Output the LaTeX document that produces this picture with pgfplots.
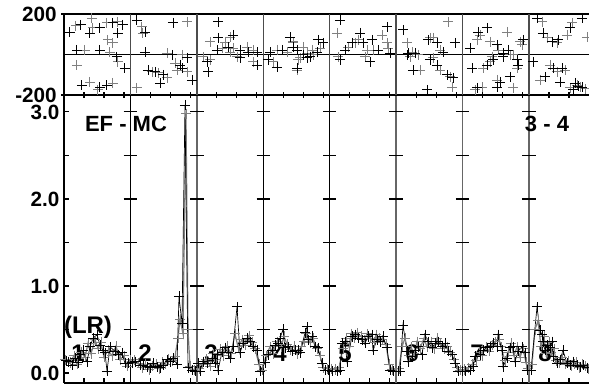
\documentclass[border=0pt]{standalone}
\usepackage{fontspec}
\setmainfont{Liberation Sans}
\usepackage{pgfplots}
\pgfplotsset{compat=1.18}
\pgfplotsset{
 base/.style={
  scale only axis, width=393.75pt,
  xmin=64, xmax=589,
  axis x line*=box, axis y line*=left,
  axis line style={line width=0.8pt},
  xtick={84,104,124,150.4,170.4,190.4,216.9,236.9,256.9,283.3,303.3,323.3,349.7,369.7,389.7,416.1,436.1,456.1,482.6,502.6,522.6,549,569},
  xticklabels={},
  xtick pos=bottom,
  tick style={black, line width=0.8pt},
  major tick length=4pt,
  minor tick length=4pt,
  ticklabel style={font=\fontsize{15.5}{15.5}\selectfont\bfseries},
  /pgf/number format/assume math mode=true,
  clip=false,
 },
 bmark/.style={black, line width=0.5pt, mark=+, mark size=3.8pt, mark options={line width=0.75pt, solid}},
 gmark/.style={black!50, line width=0.9pt, mark=+, mark size=3.8pt, mark options={line width=0.75pt, solid}},
}
\begin{document}
\begin{tikzpicture}[x=1pt,y=1pt]
\path[use as bounding box] (-48pt,-2.25pt) rectangle (393.75pt,287.25pt);
% ---------------- bottom panel ----------------
\begin{axis}[base,
  at={(0pt,0pt)}, anchor=south west, height=216pt,
  ymin=-0.115, ymax=3.195,
  ytick={0,1,2,3}, yticklabels={0.0,1.0,2.0,3.0},
  minor ytick={0.5,1.5,2.5},
  tick align=inside,
]
\pgfplotsinvokeforeach{130.4,263.3,329.7}{
  \draw[black, line width=0.8pt] (axis cs:#1,-0.115) -- (axis cs:#1,3.195);
}
\pgfplotsinvokeforeach{196.9,396.1,462.6,529}{
  \draw[black!60, line width=1.1pt] (axis cs:#1,-0.115) -- (axis cs:#1,3.195);
}
\pgfplotsinvokeforeach{130.4,196.9,263.3,329.7,396.1,462.6,529}{
  \draw[black, line width=0.8pt]
    (axis cs:#1,0.5) ++(-5pt,0pt) -- ++(10pt,0pt)
    (axis cs:#1,1.0) ++(-5pt,0pt) -- ++(10pt,0pt)
    (axis cs:#1,1.5) ++(-5pt,0pt) -- ++(10pt,0pt)
    (axis cs:#1,2.0) ++(-5pt,0pt) -- ++(10pt,0pt)
    (axis cs:#1,2.5) ++(-5pt,0pt) -- ++(10pt,0pt)
    (axis cs:#1,3.0) ++(-5pt,0pt) -- ++(10pt,0pt);
}
% gray series
\addplot[gmark] coordinates {
(65,0.15)(70,0.12)(74,0.2)(77,0.1)(81,0.24)(85,0.18)(88,0.34)(91,0.22)(95,0.38)(98,0.28)(101,0.35)(104,0.18)(108,0.26)(112,0.2)(116,0.31)(120,0.15)(124,0.2)(127,0.08)(130,0.15)
(134,0.15)(138,0.11)(142,0.06)(145,0.1)(149,0.04)(152,0.08)(156,0.1)(159,0.05)(162,0.12)(165,0.1)(168,0.16)(172,0.14)(175,0.19)(178,0.4)(180,0.62)(183,0.45)(186,2.98)(188,0.5)(190,0.08)(194,0.03)
(199,0.05)(202,0.1)(206,0.16)(210,0.08)(213,0.22)(216,0.15)(220,0.27)(223,0.2)(227,0.31)(231,0.22)(235,0.45)(238,0.3)(242,0.38)(245,0.32)(249,0.43)(252,0.35)(255,0.28)(259,0.1)(262,0.03)
(266,0.2)(270,0.3)(273,0.22)(277,0.36)(281,0.3)(284,0.42)(287,0.33)(290,0.27)(294,0.31)(297,0.22)(301,0.3)(304,0.36)(306,0.45)(310,0.35)(313,0.4)(317,0.28)(320,0.2)(323,0.06)(327,0.05)
(331,0.05)(335,0.04)(339,0.06)(343,0.28)(346,0.4)(349,0.3)(351,0.45)(354,0.4)(357,0.46)(361,0.42)(364,0.38)(367,0.45)(370,0.4)(374,0.35)(376,0.44)(379,0.4)(382,0.38)(386,0.33)(389,0.1)(392,0.04)
(399,0.05)(402,0.3)(405,0.4)(409,0.2)(411,0.3)(414,0.22)(417,0.36)(420,0.28)(424,0.4)(427,0.3)(431,0.36)(434,0.28)(437,0.4)(440,0.33)(444,0.28)(447,0.3)(450,0.24)(454,0.16)(457,0.06)(460,0.03)
(464,0.04)(468,0.06)(472,0.1)(476,0.14)(479,0.24)(482,0.2)(486,0.3)(489,0.25)(492,0.32)(495,0.36)(499,0.38)(501,0.3)(505,0.14)(508,0.24)(511,0.34)(514,0.2)(517,0.3)(520,0.18)(523,0.28)(526,0.12)(528,0.05)
(532,0.1)(535,0.5)(538,0.6)(541,0.3)(544,0.42)(546,0.22)(549,0.35)(551,0.24)(554,0.28)(556,0.14)(559,0.12)(562,0.18)(565,0.1)(568,0.14)(571,0.08)(574,0.1)(576,0.12)(579,0.06)(582,0.1)(585,0.08)(588,0.05)
};
% black series
\addplot[bmark] coordinates {
(66,0.14)(68,0.13)(72,0.09)(75,0.17)(78,0.12)(80,0.21)(83,0.26)(87,0.13)(90,0.30)(93,0.40)(97,0.44)(100,0.32)(103,0.26)(105,0.23)(107,0.02)(110,0.30)(115,0.25)(118,0.21)(122,0.23)(125,0.11)(128,0.11)
(132,0.12)(135,0.13)(140,0.09)(143,0.09)(147,0.07)(150,0.06)(153,0.11)(157,0.07)(160,0.06)(163,0.09)(167,0.15)(170,0.13)(173,0.17)(177,0.1)(179,0.88)(182,0.57)(185,3.08)(188,0.06)(192,0.03)(195,0.02)
(198,0.11)(200,0.02)(203,0.13)(207,0.11)(212,0.17)(215,0.11)(217,0.21)(218,0.03)(222,0.24)(225,0.29)(228,0.23)(230,0.17)(233,0.30)(237,0.76)(240,0.23)(243,0.34)(247,0.40)(250,0.36)(253,0.30)(257,0.26)(260,0.02)
(265,0.12)(268,0.21)(272,0.26)(275,0.32)(278,0.34)(280,0.4)(283,0.5)(285,0.29)(288,0.30)(292,0.25)(295,0.26)(298,0.26)(300,0.23)(305,0.46)(307,0.53)(308,0.38)(312,0.42)(315,0.30)(318,0.29)(322,0.11)(325,0.03)(328,0.03)
(332,0.02)(337,0.02)(340,0.03)(342,0.34)(345,0.36)(347,0.13)(352,0.42)(355,0.44)(358,0.40)(362,0.38)(365,0.34)(368,0.42)(372,0.44)(373,0.26)(377,0.38)(380,0.36)(383,0.42)(387,0.29)(390,0.03)(393,0.02)
(398,0.02)(400,0.02)(403,0.55)(407,0.25)(408,0.13)(412,0.19)(415,0.26)(418,0.30)(422,0.21)(425,0.44)(428,0.36)(432,0.29)(435,0.34)(438,0.36)(442,0.30)(445,0.34)(448,0.25)(452,0.21)(455,0.11)(458,0.02)(462,0.02)
(465,0.02)(470,0.03)(473,0.07)(475,0.19)(480,0.21)(483,0.26)(487,0.29)(490,0.30)(493,0.34)(497,0.30)(498,0.44)(502,0.26)(503,0.07)(507,0.17)(510,0.29)(513,0.30)(515,0.13)(518,0.25)(522,0.30)(525,0.23)(527,0.03)
(531,0.03)(537,0.76)(540,0.49)(542,0.44)(543,0.36)(545,0.26)(547,0.32)(550,0.29)(552,0.36)(553,0.19)(557,0.11)(560,0.15)(563,0.26)(567,0.11)(570,0.09)(573,0.13)(577,0.09)(580,0.07)(583,0.09)(587,0.06)
};
\begin{scope}[font=\fontsize{16.5}{16.5}\selectfont\bfseries]
\node at (axis cs:126,2.86) {EF - MC};
\node at (axis cs:547,2.86) {3 - 4};
\end{scope}
\begin{scope}[font=\fontsize{18}{18}\selectfont\bfseries]
\node at (axis cs:88,0.53) {(LR)};
\node at (axis cs:78,0.23) {1};
\node at (axis cs:145,0.23) {2};
\node at (axis cs:211,0.23) {3};
\node at (axis cs:280,0.23) {4};
\node at (axis cs:345,0.23) {5};
\node at (axis cs:412,0.23) {6};
\node at (axis cs:477,0.23) {7};
\node at (axis cs:545,0.23) {8};
\end{scope}
\end{axis}
% ---------------- top panel ----------------
\begin{axis}[base,
  at={(0pt,216pt)}, anchor=south west, height=60.75pt,
  ymin=-200, ymax=200,
  ytick={-200,200}, yticklabels={-200,200},
  tick align=center,
]
\draw[black, line width=0.8pt] (axis cs:64,0) -- (axis cs:589,0);
\pgfplotsinvokeforeach{130.4,196.9,263.3,329.7,396.1,462.6,529}{
  \draw[black!70, line width=1pt] (axis cs:#1,-200) -- (axis cs:#1,200);
}
\addplot[gmark, only marks] coordinates {
(76,141)(92,180)(93,131)(107,156)(118,161)(108,72)(113,57)(85,22)(110,12)(118,-37)(77,-52)(90,-136)(98,-175)(113,-141)
(142,136)(143,106)(187,161)(167,7)(182,-2)(137,-165)(152,-86)(158,-91)(167,-116)(175,-42)(177,-77)(187,-86)
(210,62)(230,86)(225,57)(233,32)(247,37)(253,22)(237,-12)(203,-12)(210,-27)(253,-37)(230,12)(222,32)
(277,22)(287,12)(293,62)(273,-37)(297,-77)(293,57)(300,-17)(307,7)(313,-2)(320,32)(303,37)(298,-27)(312,22)
(337,106)(338,-12)(348,37)(355,57)(358,72)(367,22)(365,-12)(373,22)(382,96)(387,57)(388,32)
(407,57)(412,12)(418,-2)(410,-12)(420,-77)(430,82)(433,82)(440,22)(448,161)(433,-17)(440,-77)(450,-111)(452,-161)
(477,72)(480,96)(490,62)(498,22)(507,111)(510,-2)(520,62)(522,47)(483,-67)(490,-37)(492,-12)(513,-2)(517,-67)(497,-126)(482,-161)(475,-175)(513,-165)
(542,161)(547,82)(557,57)(567,96)(572,156)(587,86)(540,-126)(550,-52)(557,-86)(565,-77)(570,-165)(577,-151)(580,-161)(585,-170)
};
\addplot[bmark, only marks] coordinates {
(70,111)(81,146)(90,106)(100,131)(113,156)(123,146)(118,106)(77,22)(100,22)(117,-12)(125,-67)(82,-151)(100,-161)(107,-151)
(137,170)(145,111)(173,156)(145,12)(172,-2)(187,-17)(148,-77)(155,-86)(163,-101)(160,-141)(180,-52)(182,-67)(192,-126)
(218,161)(218,82)(233,96)(228,37)(240,22)(248,12)(257,12)(240,-17)(207,-37)(208,-86)(257,-52)(217,22)
(270,12)(282,22)(290,86)(293,37)(277,-62)(268,-27)(297,22)(303,-2)(310,-12)(317,12)(323,57)(297,-67)(307,-17)(318,72)
(340,170)(340,-27)(345,22)(352,57)(360,106)(363,57)(370,-37)(372,72)(378,22)(387,136)(390,7)
(403,121)(408,7)(415,7)(407,-2)(413,-77)(427,-175)(428,72)(437,57)(443,12)(455,57)(437,-52)(447,-101)(453,-116)(430,-27)
(470,32)(478,111)(487,131)(497,47)(503,7)(508,22)(517,-27)(523,72)(472,-67)(487,-52)(493,-27)(503,-12)(518,-52)(510,-111)(500,-136)(477,-165)(497,-161)
(537,180)(543,106)(552,62)(558,72)(570,131)(582,180)(533,-37)(545,-111)(553,-67)(562,-67)(560,-136)(575,-141)(578,-156)(582,-161)(573,-175)
};
\end{axis}
\end{tikzpicture}
\end{document}
